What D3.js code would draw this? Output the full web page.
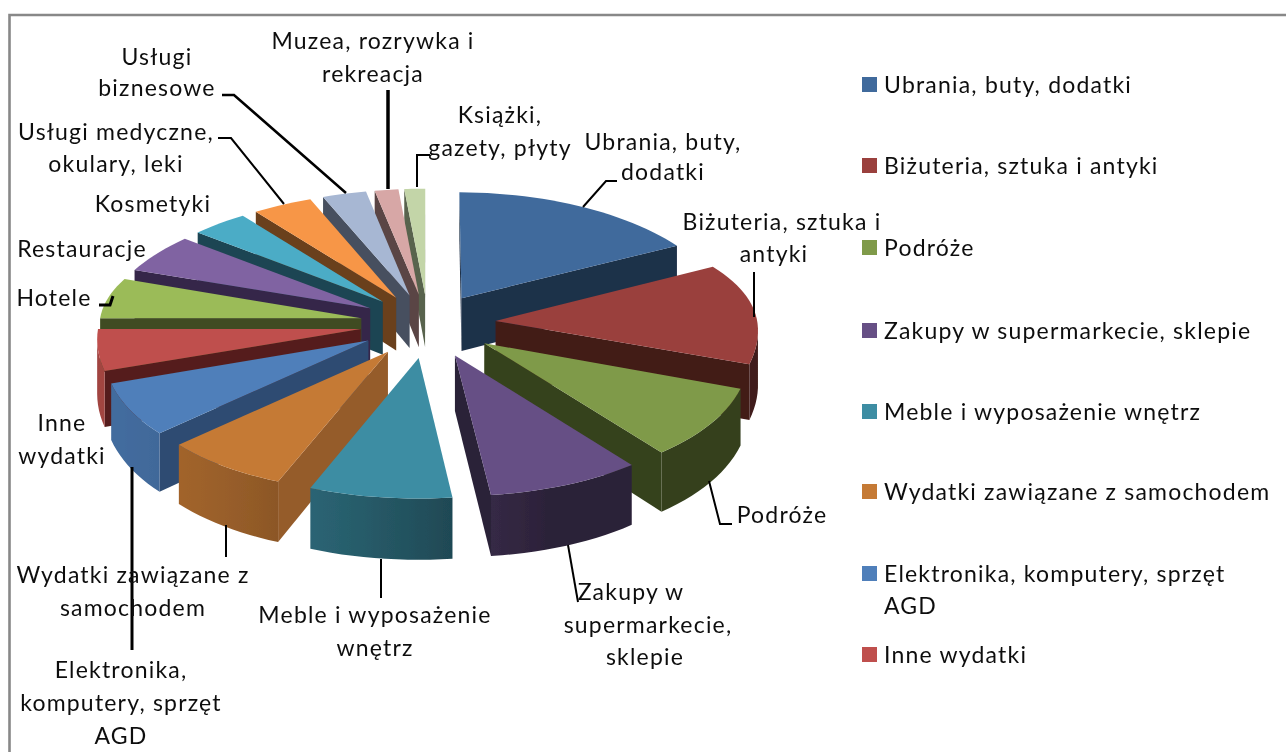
<!DOCTYPE html>
<html><head><meta charset="utf-8">
<script src="https://cdn.jsdelivr.net/npm/d3@7"></script>
<style>html,body{margin:0;padding:0;background:#fff;overflow:hidden}
text{font-family:Lato,"Open Sans",sans-serif;font-size:23px;fill:#111;letter-spacing:1.2px}</style>
</head><body><div id="c"></div>
<script>
// --- data (share of spending, %)
const categories=["Ubrania, buty, dodatki","Biżuteria, sztuka i antyki","Podróże","Zakupy w supermarkecie, sklepie","Meble i wyposażenie wnętrz","Wydatki zawiązane z samochodem","Elektronika, komputery, sprzęt AGD","Inne wydatki","Hotele","Restauracje","Kosmetyki","Usługi medyczne, okulary, leki","Usługi biznesowe","Muzea, rozrywka i rekreacja","Książki, gazety, płyty"];
const values=[16.67,13.61,8.89,8.89,8.19,7.25,6.5,5.0,5.83,5.56,3.75,3.97,2.92,1.58,1.39];
const topColors=["#3f6a9c","#9a403d","#7f9a48","#664f85","#3c8da3","#c57a36","#4f7fba","#bf504d","#9bbb59","#8064a2","#4bacc6","#f79646","#a7b7d3","#d7a7a6","#c3d5a8"];
const wallColors=["#1e3049","#431a18","#36421c","#2a2239","#224b58","#955b2a","#2e4c72","#551e1c","#3f4c22","#35274a","#1e4552","#6b3f1a","#464f5f","#5a4544","#59634d"];
const legendRows=[["Ubrania, buty, dodatki"],["Biżuteria, sztuka i antyki"],["Podróże"],["Zakupy w supermarkecie, sklepie"],["Meble i wyposażenie wnętrz"],["Wydatki zawiązane z samochodem"],["Elektronika, komputery, sprzęt","AGD"],["Inne wydatki"]];
// --- layout
const legendY=[85,166,248,331,412,492,574,655];
const labelLayout=[
 {c:663,y:[142,172],t:["Ubrania, buty,","dodatki"]},
 {c:782,y:[222,254],t:["Biżuteria, sztuka i","antyki"],dx:[0,-8]},
 {c:782,y:[515],t:["Podróże"]},
 {c:648,y:[592,625,657],t:["Zakupy w","supermarkecie,","sklepie"],dx:[-17,0,-3]},
 {c:375,y:[615,648],t:["Meble i wyposażenie","wnętrz"]},
 {c:133,y:[575,608],t:["Wydatki zawiązane z","samochodem"]},
 {c:121,y:[670,703,736],t:["Elektronika,","komputery, sprzęt","AGD"]},
 {c:62,y:[423,456],t:["Inne","wydatki"]},
 {c:54,y:[298],t:["Hotele"]},
 {c:82,y:[249],t:["Restauracje"]},
 {c:153,y:[204],t:["Kosmetyki"]},
 {c:116,y:[132,164],t:["Usługi medyczne,","okulary, leki"]},
 {c:157,y:[57,88],t:["Usługi","biznesowe"]},
 {c:373,y:[41,74],t:["Muzea, rozrywka i","rekreacja"]},
 {c:500,y:[115,148],t:["Książki,","gazety, płyty"]}];
const leaders=[
 {w:2,p:[[583,207],[606,181],[617,181]]},
 {w:2,p:[[754,272],[754,317]]},
 {w:2,p:[[709,481],[720,524],[732,524]]},
 {w:2,p:[[568,545],[578,602]]},
 {w:2,p:[[381,559],[381,598]]},
 {w:2,p:[[226,525],[226,557]]},
 {w:3,p:[[132,467],[132,650]]},
 {w:3,p:[[99,305],[110,305],[113,296]]},
 {w:2.5,p:[[222,95],[234,95],[346,193]]},
 {w:2,p:[[218,138],[231,138],[284,204]]},
 {w:3.5,p:[[388,90],[388,189]]},
 {w:2,p:[[430,155],[417,155],[417,187]]}];
const W=1286,H=752,cx=428,cy=324,R=262,E=68,DEPTH=54;
const svg=d3.select("#c").append("svg").attr("width",W).attr("height",H).style("display","block");
const defs=svg.append("defs");
defs.append("filter").attr("id","soft").append("feGaussianBlur").attr("stdDeviation",.45);
const root=svg.append("g").attr("filter","url(#soft)");
// frame
root.append("path").attr("d",`M${W},15H9.5V${H}`).attr("fill","none").attr("stroke","#888").attr("stroke-width",2.6);
// projection: plane (X,Y), z = 0 on top face, 1 on bottom face
function proj(X,Y,z=0){
  const f=.47+.06*Math.tanh(Y/100),s=1+Y/330*.135,sx=1+Y/330*.08;
  return [cx+X*sx,cy+Y*f+z*DEPTH*s];
}
const pie=d3.pie().sort(null).value(d=>d)(values);
const line=d3.line();
const shade=t=>.42+.43*Math.max(0,Math.cos(t-250*Math.PI/180));
const order=d3.range(pie.length).sort((a,b)=>{
  const m=i=>(pie[i].startAngle+pie[i].endAngle)/2; return Math.cos(m(b))-Math.cos(m(a));});
const pg=root.append("g");
order.forEach(i=>{
  const a=pie[i],mid=(a.startAngle+a.endAngle)/2,ox=E*Math.sin(mid),oy=-E*Math.cos(mid);
  const n=Math.max(6,Math.ceil((a.endAngle-a.startAngle)/.04));
  const ang=d3.range(n+1).map(k=>a.startAngle+(a.endAngle-a.startAngle)*k/n);
  const rim=ang.map(t=>[ox+R*Math.sin(t),oy-R*Math.cos(t)]);
  const pts=z=>[[ox,oy],...rim].map(p=>proj(p[0],p[1],z));
  const top=pts(0),bot=pts(1),g=pg.append("g");
  const quad=(k,m)=>[top[k],top[m],bot[m],bot[k]];
  // radial walls
  if(top[1][0]<top[0][0]) g.append("path").attr("d",line(quad(0,1))+"Z").attr("fill",wallColors[i]);
  if(top[0][0]<top[n+1][0]) g.append("path").attr("d",line(quad(n+1,0))+"Z").attr("fill",wallColors[i]);
  // outer wall, one shape with a gradient following the rim
  const vis=d3.range(1,n+1).filter(k=>top[k+1][0]<top[k][0]);
  if(vis.length){
    const first=vis[0],last=vis[vis.length-1]+1;
    const x1=top[first][0],x2=top[last][0];
    const id="wall"+i;
    const gr=defs.append("linearGradient").attr("id",id).attr("gradientUnits","userSpaceOnUse")
      .attr("x1",x1).attr("x2",x2).attr("y1",0).attr("y2",0);
    const c=d3.rgb(topColors[i]);
    d3.range(first,last+1).forEach(k=>{
      const m=shade(ang[k-1]);
      gr.append("stop").attr("offset",(top[k][0]-x1)/(x2-x1)).attr("stop-color",d3.rgb(c.r*m,c.g*m,c.b*m));
    });
    const seq=d3.range(first,last+1);
    const poly=[...seq.map(k=>top[k]),...seq.slice().reverse().map(k=>bot[k])];
    g.append("path").attr("d",line(poly)+"Z").attr("fill",`url(#${id})`);
  }
  g.append("path").attr("d",line(top)+"Z").attr("fill",topColors[i]);
});
// leaders
root.append("g").selectAll("path").data(leaders).join("path")
 .attr("d",d=>line(d.p)).attr("fill","none").attr("stroke","#000").attr("stroke-width",d=>d.w);
// labels
labelLayout.forEach(l=>l.t.forEach((s,k)=>{
 root.append("text").attr("x",l.c+((l.dx||[])[k]||0)).attr("y",l.y[k]).attr("dy",".35em").attr("text-anchor","middle").text(s);
}));
// legend
legendRows.forEach((r,i)=>{
 root.append("rect").attr("x",862).attr("y",legendY[i]-8).attr("width",15).attr("height",15).attr("fill",topColors[i]);
 r.forEach((s,k)=>root.append("text").attr("x",884).attr("y",legendY[i]+k*32).attr("dy",".35em").text(s));
});
</script></body></html>
